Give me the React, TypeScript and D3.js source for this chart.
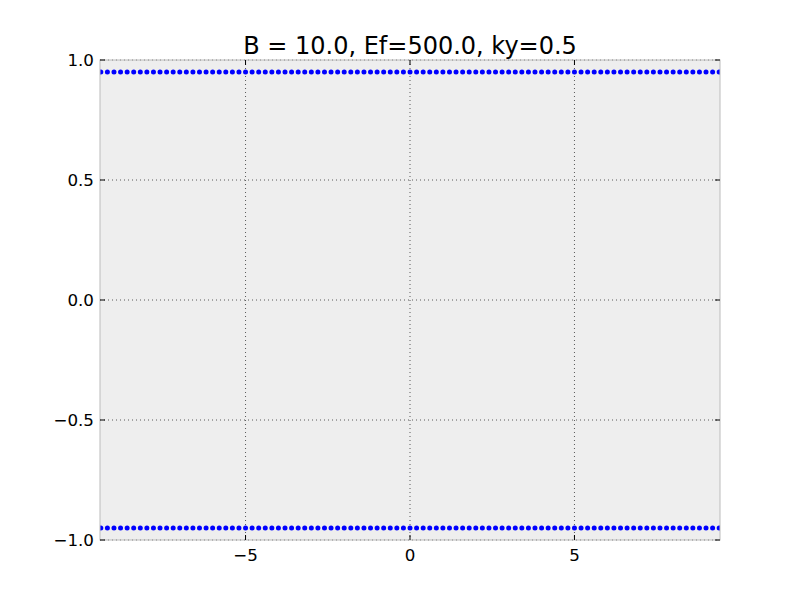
import React, { useEffect, useRef } from "react";
import * as d3 from "d3";

// sample positions along x (same grid for both bands)
const xs = [
  -9.4, -9.2, -9.0, -8.8, -8.6, -8.4, -8.2, -8.0, -7.8, -7.6, -7.4, -7.2, -7.0, -6.8, -6.6, -6.4,
  -6.2, -6.0, -5.8, -5.6, -5.4, -5.2, -5.0, -4.8, -4.6, -4.4, -4.2, -4.0, -3.8, -3.6, -3.4, -3.2,
  -3.0, -2.8, -2.6, -2.4, -2.2, -2.0, -1.8, -1.6, -1.4, -1.2, -1.0, -0.8, -0.6, -0.4, -0.2, 0.0,
  0.2, 0.4, 0.6, 0.8, 1.0, 1.2, 1.4, 1.6, 1.8, 2.0, 2.2, 2.4, 2.6, 2.8, 3.0, 3.2,
  3.4, 3.6, 3.8, 4.0, 4.2, 4.4, 4.6, 4.8, 5.0, 5.2, 5.4, 5.6, 5.8, 6.0, 6.2, 6.4,
  6.6, 6.8, 7.0, 7.2, 7.4, 7.6, 7.8, 8.0, 8.2, 8.4, 8.6, 8.8, 9.0, 9.2, 9.4,
];
const upperBand = 0.95;
const lowerBand = -0.95;
const xTicks = [-5, 0, 5];
const yTicks = [-1.0, -0.5, 0.0, 0.5, 1.0];
const title = "B = 10.0, Ef=500.0, ky=0.5";

export default function App() {
  const ref = useRef<SVGSVGElement>(null);

  useEffect(() => {
    const svg = d3.select(ref.current);
    svg.selectAll("*").remove();
    const m = { left: 100, top: 60, right: 80, bottom: 60 };
    const w = 800 - m.left - m.right;
    const h = 600 - m.top - m.bottom;
    const font = "DejaVu Sans, sans-serif";

    const x = d3.scaleLinear().domain([-3 * Math.PI, 3 * Math.PI]).range([0, w]);
    const y = d3.scaleLinear().domain([-1, 1]).range([h, 0]);

    svg.append("defs").append("clipPath").attr("id", "clip")
      .append("rect").attr("width", w).attr("height", h);

    const g = svg.append("g").attr("transform", `translate(${m.left},${m.top})`);
    g.append("rect").attr("width", w).attr("height", h).attr("fill", "#eeeeee");

    // grid
    g.selectAll(".gx").data(xTicks).enter().append("line")
      .attr("x1", (d) => x(d)).attr("x2", (d) => x(d)).attr("y1", 0).attr("y2", h)
      .attr("stroke", "#333").attr("stroke-width", 0.8).attr("stroke-dasharray", "1,3");
    g.selectAll(".gy").data(yTicks).enter().append("line")
      .attr("y1", (d) => y(d)).attr("y2", (d) => y(d)).attr("x1", 0).attr("x2", w)
      .attr("stroke", "#333").attr("stroke-width", 0.8).attr("stroke-dasharray", "1,3");

    // points
    const pts = g.append("g").attr("clip-path", "url(#clip)");
    [upperBand, lowerBand].forEach((v) => {
      pts.selectAll(null).data(xs).enter().append("circle")
        .attr("cx", (d) => x(d)).attr("cy", y(v)).attr("r", 2.5).attr("fill", "#0000ff");
    });

    // frame
    g.append("rect").attr("width", w).attr("height", h)
      .attr("fill", "none").attr("stroke", "#bcbcbc").attr("stroke-width", 1);

    // ticks inward on all sides
    const tl = 5;
    xTicks.forEach((t) => {
      g.append("line").attr("x1", x(t)).attr("x2", x(t)).attr("y1", h).attr("y2", h - tl).attr("stroke", "#000");
      g.append("line").attr("x1", x(t)).attr("x2", x(t)).attr("y1", 0).attr("y2", tl).attr("stroke", "#000");
    });
    yTicks.forEach((t) => {
      g.append("line").attr("x1", 0).attr("x2", tl).attr("y1", y(t)).attr("y2", y(t)).attr("stroke", "#000");
      g.append("line").attr("x1", w).attr("x2", w - tl).attr("y1", y(t)).attr("y2", y(t)).attr("stroke", "#000");
    });

    const fmt = (d: number) => d3.format(".1f")(d).replace("-", "\u2212");
    g.selectAll(".xl").data(xTicks).enter().append("text")
      .attr("x", (d) => x(d)).attr("y", h + 21).attr("text-anchor", "middle")
      .style("font-family", font).style("font-size", "16.7px").attr("fill", "#000")
      .text((d) => String(d).replace("-", "\u2212"));
    g.selectAll(".yl").data(yTicks).enter().append("text")
      .attr("x", -6).attr("y", (d) => y(d)).attr("dy", "0.35em").attr("text-anchor", "end")
      .style("font-family", font).style("font-size", "16.7px").attr("fill", "#000")
      .text((d) => fmt(d));

    svg.append("text").attr("x", m.left + w / 2).attr("y", m.top - 6)
      .attr("text-anchor", "middle").style("font-family", font).style("font-size", "24px")
      .attr("fill", "#000").text(title);
  }, []);

  return (
    <svg ref={ref} width={800} height={600}
      style={{ position: "absolute", left: 0, top: 0, background: "#fff" }} />
  );
}
